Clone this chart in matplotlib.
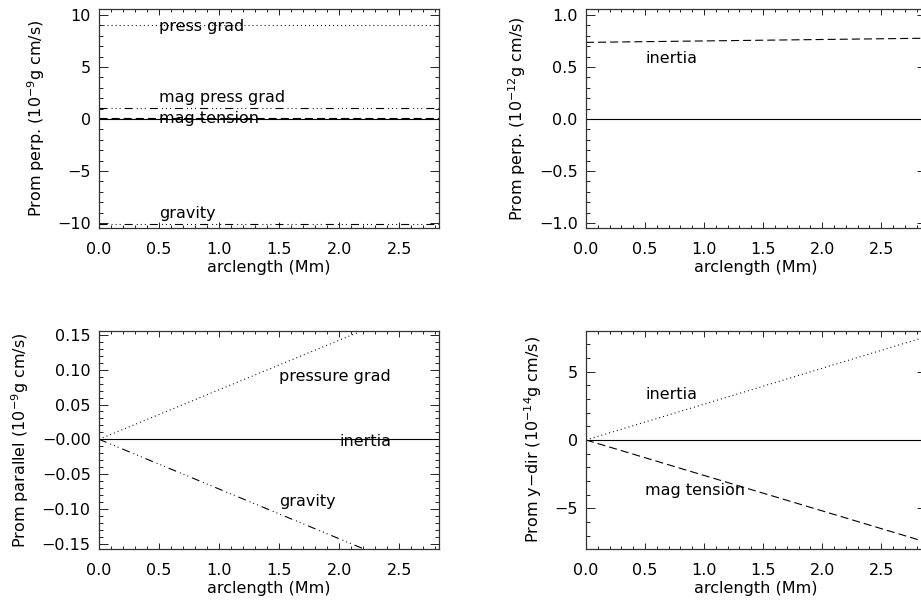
import matplotlib
matplotlib.use('Agg')
import matplotlib.pyplot as plt
from matplotlib.ticker import MultipleLocator, FixedLocator, FixedFormatter

# ---------------- data ----------------
x_left = [0.0, 2.83]
x_right = [0.0, 2.88]

# top-left: perpendicular forces (1e-9 g cm/s)
tl_press_grad = [9.05, 9.05]
tl_mag_press_grad = [1.1, 1.1]
tl_mag_tension = [0.12, 0.12]
tl_inertia = [0.0, 0.0]
tl_gravity = [-10.05, -10.05]

# top-right: perpendicular (1e-12 g cm/s)
tr_inertia = [0.737, 0.777]
tr_zero = [0.0, 0.0]

# bottom-left: parallel (1e-9 g cm/s)
bl_press_grad = [0.0, 0.2018]
bl_inertia = [0.0, 0.0]
bl_gravity = [0.0, -0.2025]

# bottom-right: y-dir (1e-14 g cm/s)
br_inertia = [0.0, 7.56]
br_mag_tension = [0.0, -7.47]
br_zero = [0.0, 0.0]

# tick labels
x_ticks = [0.0, 0.5, 1.0, 1.5, 2.0, 2.5]
x_ticklabels = ['0.0', '0.5', '1.0', '1.5', '2.0', '2.5']
tl_yticks = [-10, -5, 0, 5, 10]
tl_yticklabels = ['\u221210', '\u22125', '0', '5', '10']
tr_yticks = [-1.0, -0.5, 0.0, 0.5, 1.0]
tr_yticklabels = ['\u22121.0', '\u22120.5', '0.0', '0.5', '1.0']
bl_yticks = [-0.15, -0.10, -0.05, 0.0, 0.05, 0.10, 0.15]
bl_yticklabels = ['\u22120.15', '\u22120.10', '\u22120.05', '\u22120.00', '0.05', '0.10', '0.15']
br_yticks = [-5, 0, 5]
br_yticklabels = ['\u22125', '0', '5']

# annotations (text, x, y)
tl_texts = [('press grad', 0.5, 8.45), ('mag press grad', 0.5, 1.66),
            ('mag tension', 0.5, -0.42), ('gravity', 0.5, -9.55)]
tr_texts = [('inertia', 0.5, 0.535)]
bl_texts = [('pressure grad', 1.5, 0.084), ('inertia', 2.0, -0.0097),
            ('gravity', 1.5, -0.096)]
br_texts = [('inertia', 0.5, 2.98), ('mag tension', 0.5, -4.02)]

# ---------------- style ----------------
FS = 11.5
plt.rcParams['font.family'] = ['DejaVu Sans']
plt.rcParams['font.size'] = FS
plt.rcParams['lines.scale_dashes'] = False
plt.rcParams['mathtext.fontset'] = 'dejavusans'

DOT = (0, (0.7, 2.2))
DASH = (0, (5.8, 2.9))
DASH3DOT = (0, (5.8, 2.9, 0.7, 2.2, 0.7, 2.2, 0.7, 2.9))
LW = 0.8

W, H = 921, 605
fig = plt.figure(figsize=(W / 100, H / 100), dpi=100)


def px_axes(l, t, r, b):
    return fig.add_axes([l / W, 1 - b / H, (r - l) / W, (b - t) / H])


def style(ax, xlim, ylim, yticks, yticklabels, yminor, ylabel):
    ax.set_xlim(*xlim)
    ax.set_ylim(*ylim)
    ax.xaxis.set_major_locator(FixedLocator(x_ticks))
    ax.xaxis.set_major_formatter(FixedFormatter(x_ticklabels))
    ax.xaxis.set_minor_locator(MultipleLocator(0.1))
    ax.yaxis.set_major_locator(FixedLocator(yticks))
    ax.yaxis.set_major_formatter(FixedFormatter(yticklabels))
    ax.yaxis.set_minor_locator(MultipleLocator(yminor))
    ax.tick_params(which='both', direction='in', top=True, right=True,
                   width=0.7, color='#222222', labelsize=FS)
    ax.tick_params(which='major', axis='x', length=4.5, pad=10)
    ax.tick_params(which='minor', axis='x', length=2.2)
    ax.tick_params(which='major', axis='y', length=6.5, pad=6)
    ax.tick_params(which='minor', axis='y', length=3.2)
    for s in ax.spines.values():
        s.set_linewidth(0.9)
        s.set_color('#333333')
    ax.set_xlabel('arclength (Mm)', fontsize=FS, labelpad=2)
    ax.set_ylabel(ylabel, fontsize=FS, labelpad=7.5)


# ---- top-left ----
ax1 = px_axes(99, 9, 439, 228)
ax1.plot(x_left, tl_press_grad, color='k', lw=LW, linestyle=DOT)
ax1.plot(x_left, tl_mag_press_grad, color='k', lw=LW, linestyle=DASH3DOT)
ax1.plot(x_left, tl_mag_tension, color='k', lw=LW, linestyle=DASH)
ax1.plot(x_left, tl_inertia, color='k', lw=LW, linestyle='-')
ax1.plot(x_left, tl_gravity, color='k', lw=LW, linestyle=DASH3DOT)
for t, xx, yy in tl_texts:
    ax1.text(xx, yy, t, fontsize=FS, va='baseline', ha='left')
style(ax1, (0, 2.83), (-10.48, 10.58), tl_yticks, tl_yticklabels, 1,
      r'Prom perp. (10$^{-9}$g cm/s)')

# ---- top-right ----
ax2 = px_axes(586, 9, 926, 228)
ax2.plot(x_right, tr_inertia, color='k', lw=LW, linestyle=DASH)
ax2.plot(x_right, tr_zero, color='k', lw=LW, linestyle='-')
for t, xx, yy in tr_texts:
    ax2.text(xx, yy, t, fontsize=FS, va='baseline', ha='left')
style(ax2, (0, 2.88), (-1.048, 1.058), tr_yticks, tr_yticklabels, 0.1,
      r'Prom perp. (10$^{-12}$g cm/s)')

# ---- bottom-left ----
ax3 = px_axes(99, 331, 439, 549)
ax3.plot(x_left, bl_press_grad, color='k', lw=LW, linestyle=DOT)
ax3.plot(x_left, bl_inertia, color='k', lw=LW, linestyle='-')
ax3.plot(x_left, bl_gravity, color='k', lw=LW, linestyle=DASH3DOT)
for t, xx, yy in bl_texts:
    ax3.text(xx, yy, t, fontsize=FS, va='baseline', ha='left')
style(ax3, (0, 2.83), (-0.1578, 0.1558), bl_yticks, bl_yticklabels, 0.01,
      r'Prom parallel (10$^{-9}$g cm/s)')

# ---- bottom-right ----
ax4 = px_axes(586, 331, 926, 549)
ax4.plot(x_right, br_inertia, color='k', lw=LW, linestyle=DOT)
ax4.plot(x_right, br_mag_tension, color='k', lw=LW, linestyle=DASH)
ax4.plot(x_right, br_zero, color='k', lw=LW, linestyle='-')
for t, xx, yy in br_texts:
    ax4.text(xx, yy, t, fontsize=FS, va='baseline', ha='left')
style(ax4, (0, 2.88), (-7.98, 7.98), br_yticks, br_yticklabels, 1,
      r'Prom y$-$dir (10$^{-14}$g cm/s)')

fig.savefig('out.png', dpi=100)
